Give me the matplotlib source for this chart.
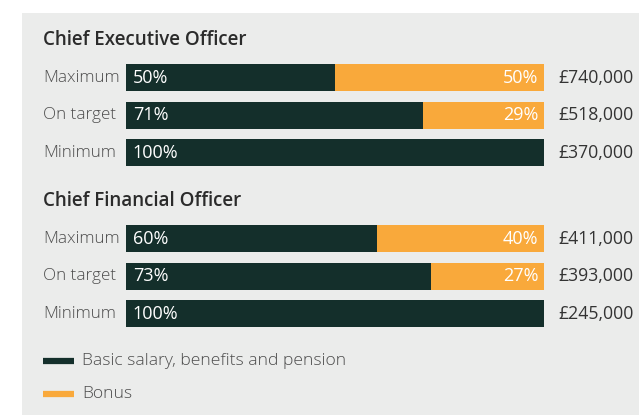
import matplotlib
matplotlib.use("Agg")
import matplotlib.pyplot as plt
from matplotlib.patches import Rectangle
from matplotlib.lines import Line2D
import matplotlib.transforms as mtransforms

plt.rcParams['font.family'] = ['Open Sans', 'DejaVu Sans']

# data
groups = ['Chief Executive Officer', 'Chief Financial Officer']
rows = ['Maximum', 'On target', 'Minimum']
salary_pct = [[50, 71, 100], [60, 73, 100]]
bonus_pct = [[50, 29, 0], [40, 27, 0]]
totals = [['£740,000', '£518,000', '£370,000'],
          ['£411,000', '£393,000', '£245,000']]
legend_labels = ['Basic salary, benefits and pension', 'Bonus']

dark = '#142f2b'
orange = '#f9a93b'
panel = '#ebeceb'
W, H = 639, 417

fig = plt.figure(figsize=(W / 100, H / 100), dpi=100)
fig.patch.set_facecolor('white')

# grey panel
fig.add_artist(Rectangle((22 / W, 1 - 415 / H), 1, 402 / H,
                         transform=fig.transFigure, facecolor=panel,
                         edgecolor='none', zorder=0))

# bar axes: x in percent, y in pixel rows
ax = fig.add_axes([126 / W, 0, 418 / W, 1])
ax.set_xlim(0, 100)
ax.set_ylim(H, 0)
ax.axis('off')
ax.patch.set_alpha(0)

tr = mtransforms.blended_transform_factory(fig.transFigure, ax.transData)

group_top = [77.5, 238.5]
pitch = 37.6
bar_h = 27

for g, name in enumerate(groups):
    ax.text(43 / W, group_top[g] - 37.5, name, transform=tr, fontsize=13.5,
            color='#2b2b2b', va='center', ha='left', fontweight='semibold')
    for i, r in enumerate(rows):
        y = group_top[g] + i * pitch
        s = salary_pct[g][i]
        b = bonus_pct[g][i]
        ax.barh(y, s, height=bar_h, color=dark, linewidth=0)
        if b:
            ax.barh(y, b, left=s, height=bar_h, color=orange, linewidth=0)
            ax.text(s + b - 1.3, y, f'{b}%', color='white', fontsize=13,
                    va='center', ha='right')
        ax.text(1.6, y, f'{s}%', color='white', fontsize=13,
                va='center', ha='left', fontweight='medium')
        ax.text(43 / W, y, r, transform=tr, fontsize=12.3, color='#4d4d4d',
                va='center', ha='left', fontweight='light')
        ax.text(558 / W, y, totals[g][i], transform=tr, fontsize=12.7,
                color='#333333', va='center', ha='left')

# legend
for k, (lab, col) in enumerate(zip(legend_labels, [dark, orange])):
    yy = 1 - (361 + k * 33) / H
    fig.add_artist(Line2D([43 / W, 74 / W], [yy, yy], transform=fig.transFigure,
                          color=col, linewidth=4.5, solid_capstyle='butt'))
    fig.text(82 / W, yy, lab, fontsize=12.6, color='#4d4d4d', va='center',
             ha='left', fontweight='light')

fig.savefig('out.png', dpi=100, facecolor=fig.get_facecolor())
